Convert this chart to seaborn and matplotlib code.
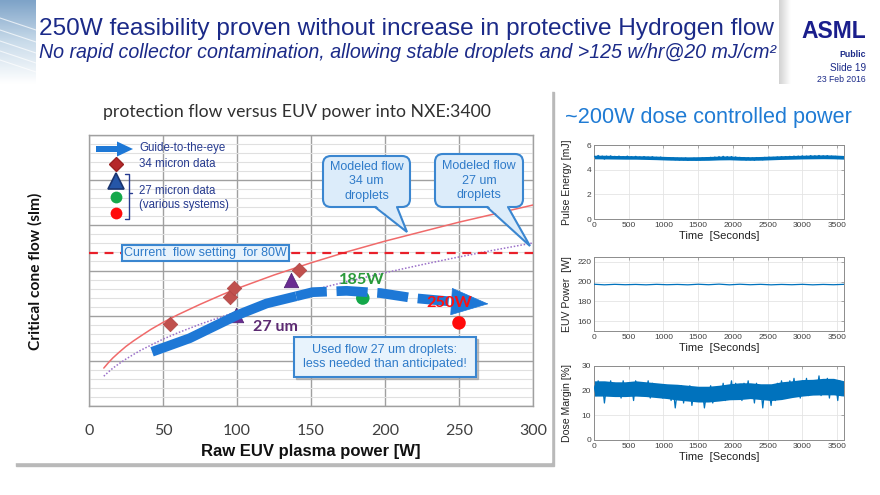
import numpy as np
import pandas as pd
import matplotlib
matplotlib.use("Agg")
import matplotlib.pyplot as plt
import seaborn as sns
from matplotlib.patches import FancyBboxPatch, Polygon, Rectangle
from matplotlib.colors import LinearSegmentedColormap

# ---------------- data ----------------
power_ticks = [0, 50, 100, 150, 200, 250, 300]
model_x = [10, 13, 16, 20, 25, 30, 35, 42, 50, 60, 75, 90, 100, 125, 150, 175, 200, 225, 250, 275, 300]
model34_y = [8.4, 9.55, 10.6, 11.8, 13.2, 14.4, 15.5, 17.0, 18.5, 20.2, 22.5, 24.65, 26.0, 29.0, 31.7,
             34.2, 36.5, 38.6, 40.7, 42.6, 44.5]
model27_y = [6.6, 7.5, 8.35, 9.3, 10.4, 11.4, 12.35, 13.5, 14.8, 16.2, 18.1, 19.8, 20.9, 23.3, 25.6,
             27.6, 29.5, 31.3, 33.0, 34.6, 36.1]
current_flow = 33.8
d34_x = [55, 95, 98, 142]
d34_y = [18.2, 24.1, 26.1, 30.1]
tri_x = [99, 136.5]
tri_y = [20.1, 27.9]
green_x = [185]
green_y = [23.9]
red_x = [250]
red_y = [18.4]
guide_solid_x = [42.6, 68, 100, 120, 140]
guide_solid_y = [12.0, 15.0, 20.1, 22.7, 24.3]
guide_dash_x = [140, 151, 174, 197, 219, 246]
guide_dash_y = [24.3, 25.2, 25.5, 25.0, 23.9, 23.1]
guide_tip_x = 270
guide_tip_y = 22.6

pulse_energy = [5.1, 4.95, 5.15, 5.0, 5.1, 4.85, 5.1, 4.98, 5.12, 4.95, 5.08, 4.97, 5.1, 4.93, 5.06, 4.96,
                5.1, 4.94, 5.05, 4.92, 5.08, 4.95, 5.03, 4.9, 5.06, 4.93, 5.02, 4.9, 5.05, 4.92, 5.0,
                4.9, 5.02, 4.88, 4.98, 4.85, 4.97, 4.82, 4.95, 4.8, 4.93, 4.78, 4.92, 4.8, 4.95, 4.76,
                4.9, 4.82, 4.93, 4.78, 4.92, 4.8, 4.95, 4.82, 4.97, 4.85, 5.0, 4.84, 5.02, 4.88, 5.05,
                4.9, 5.08, 4.92, 5.05, 4.88, 5.06, 4.9, 5.03, 4.85, 5.0, 4.82, 4.98, 4.78, 4.97, 4.8,
                4.95, 4.76, 4.98, 4.82, 4.97, 4.8, 5.0, 4.85, 5.02, 4.84, 5.0, 4.87, 5.03, 4.9, 5.05,
                4.9, 5.06, 4.93, 5.08, 4.95, 5.1, 4.92, 5.1, 4.96, 5.12, 4.95, 5.1, 4.98, 5.14, 4.97,
                5.12, 5.0, 5.15, 4.96, 5.12, 4.98, 5.14, 4.95, 5.1, 4.93, 5.08, 4.9, 5.05, 4.92, 5.02]
pulse_lo = [4.88, 4.87, 4.86, 4.85, 4.85, 4.83, 4.81, 4.78, 4.76, 4.75, 4.75, 4.76, 4.79, 4.8, 4.77, 4.76,
            4.77, 4.8, 4.83, 4.85, 4.87, 4.88, 4.89, 4.88, 4.85]
pulse_hi = [5.17, 5.17, 5.15, 5.14, 5.13, 5.12, 5.1, 5.07, 5.05, 5.04, 5.05, 5.07, 5.1, 5.11, 5.07, 5.05,
            5.07, 5.1, 5.13, 5.15, 5.17, 5.19, 5.2, 5.19, 5.15]
euv_power = [197.4, 196.8, 197.3, 196.9, 197.2, 196.8, 197.3, 196.9, 197.2, 196.8, 197.4, 196.9, 197.5,
             196.8, 197.4, 196.9, 197.3, 196.8, 197.2, 196.9, 197.3, 196.8, 197.2, 196.9, 197.3]
dose_margin = [22, 18, 24, 19, 23, 15, 22, 19, 24, 18, 23, 20, 22, 17, 24, 19, 23, 18, 22, 16, 24, 19,
               23, 18, 22, 20, 24, 17, 23, 19, 22,
               18, 22, 17, 21, 19, 22, 16, 21, 13, 20, 17, 22, 15, 21, 18, 22, 14, 20, 17, 21, 16, 20,
               13, 19, 18, 22, 15, 20, 17, 21,
               18, 23, 16, 22, 19, 24, 17, 23, 18, 22, 16, 23, 19, 24, 17, 22, 15, 23, 18, 22, 13, 21,
               17, 20, 14, 22, 16, 23, 18, 24,
               19, 23, 18, 24, 20, 25, 19, 23, 17, 24, 20, 25, 18, 24, 19, 23, 20, 26, 18, 24, 19, 25,
               17, 24, 20, 23, 16, 24, 18, 22]
dose_lo = [17.8, 17.8, 17.6, 17.6, 17.8, 17.6, 17.2, 16.8, 16.2, 15.8, 15.4, 15.4, 15.8, 16.3, 16.4, 16.8,
           16.4, 16.0, 16.4, 17.2, 17.8, 18.2, 18.3, 18.3, 17.8]
dose_hi = [24.0, 24.0, 23.6, 23.6, 24.0, 23.6, 23.2, 22.8, 22.6, 22.2, 21.8, 21.8, 22.2, 22.8, 23.2, 23.2,
           22.8, 22.8, 23.6, 24.0, 24.5, 24.6, 25.0, 25.0, 24.0]
time_ticks = [0, 500, 1000, 1500, 2000, 2500, 3000, 3500]

# ---------------- style ----------------
sns.set_theme(style="white")
plt.rcParams["font.family"] = ["Liberation Sans", "DejaVu Sans"]

W, H = 880, 495
fig = plt.figure(figsize=(8.8, 4.95), dpi=100)
fig.patch.set_facecolor("white")

def rect(x0, y0, x1, y1):
    return [x0 / W, 1 - y1 / H, (x1 - x0) / W, (y1 - y0) / H]

# background overlay (pixel coords, y down)
bg = fig.add_axes([0, 0, 1, 1], zorder=-5)
bg.set_xlim(0, W); bg.set_ylim(H, 0); bg.axis("off")
grad = np.linspace(0, 1, 100)[:, None] * np.ones((1, 20))
bg.imshow(grad, extent=(0, 36, 84, 0), cmap=LinearSegmentedColormap.from_list(
    "sw", ["#7ea3c8", "#c9dbea", "#ffffff"]), aspect="auto", zorder=1)
for yy in [30, 42, 53, 63, 72]:
    bg.plot([0, 36], [yy - 12, yy], color="white", lw=0.8, alpha=0.7, zorder=2)
hgrad = np.linspace(0, 1, 30)[None, :] * np.ones((10, 1))
bg.imshow(hgrad, extent=(779, 791, 84, 0), cmap=LinearSegmentedColormap.from_list(
    "sh", ["#d2d2d2", "#ffffff"]), aspect="auto", zorder=1)
# chart panel with shadow
bg.add_patch(Rectangle((16, 92), 538, 374, color="#b9b9b9", zorder=3))
bg.add_patch(Rectangle((13, 88), 538, 374, color="white", zorder=4))

# ---------------- main chart ----------------
NAVY = "#1b2a88"
ax = fig.add_axes(rect(89, 135, 533, 406))
ax.set_facecolor("none")
ax.set_xlim(0, 300); ax.set_ylim(0, 60)
ax.set_xticks(power_ticks)
ax.set_yticks(range(0, 61, 10))
ax.set_yticks(range(0, 61, 2), minor=True)
ax.set_yticklabels([])
ax.set_xticklabels([str(v) for v in power_ticks], fontfamily="Lato", fontsize=11.5, color="#404040")
ax.tick_params(axis="both", which="major", direction="out", length=5, color="#a0a0a0", width=1)
ax.tick_params(axis="y", which="minor", length=0)
ax.tick_params(axis="x", pad=8)
ax.grid(which="major", color="#a0a0a0", lw=1)
ax.grid(which="minor", axis="y", color="#e0e0e0", lw=0.8)
for s in ax.spines.values():
    s.set_color("#a0a0a0"); s.set_linewidth(1)
ax.set_axisbelow(True)

sns.lineplot(x=model_x, y=model34_y, ax=ax, color="#f06a6a", lw=1.1, zorder=3)
sns.lineplot(x=model_x, y=model27_y, ax=ax, color="#9a6fc8", lw=1.1, linestyle=(0, (1, 1.2)), zorder=3)
ax.axhline(current_flow, color="#e8202a", lw=1.6, linestyle=(0, (4, 3)), zorder=3)

sns.scatterplot(x=d34_x, y=d34_y, ax=ax, marker="D", s=55, color="#c0504d", edgecolor="#b04545",
                linewidth=0.5, zorder=5)
sns.scatterplot(x=tri_x, y=tri_y, ax=ax, marker="^", s=110, color="#6a2c91", edgecolor="#4b1f70",
                linewidth=0.5, zorder=4)
sns.scatterplot(x=green_x, y=green_y, ax=ax, marker="o", s=95, color="#14a84a", edgecolor="none", zorder=5)
sns.scatterplot(x=red_x, y=red_y, ax=ax, marker="o", s=95, color="#ff0a0a", edgecolor="none", zorder=5)

BLUE = "#1e78d6"
sns.lineplot(x=guide_solid_x, y=guide_solid_y, ax=ax, color=BLUE, lw=7, zorder=7,
             solid_capstyle="butt")
sns.lineplot(x=guide_dash_x, y=guide_dash_y, ax=ax, color=BLUE, lw=7, zorder=7,
             linestyle=(0, (3.2, 1.0)), dash_capstyle="butt")
ax.annotate("", xy=(guide_tip_x, guide_tip_y), xytext=(guide_dash_x[-1], guide_dash_y[-1]),
            arrowprops=dict(arrowstyle="-|>,head_length=2.6,head_width=0.95", mutation_scale=10,
                            color=BLUE, lw=0.5, shrinkA=0, shrinkB=0), zorder=8)

ax.set_xlabel("Raw EUV plasma power [W]", fontsize=12, fontweight="bold", color="#111111", labelpad=4)
ax.set_ylabel("")

# ---------------- overlay (pixel coords) ----------------
ov = fig.add_axes([0, 0, 1, 1], zorder=10)
ov.set_xlim(0, W); ov.set_ylim(H, 0); ov.axis("off"); ov.patch.set_alpha(0)

# titles
ov.text(39, 35, "250W feasibility proven without increase in protective Hydrogen flow",
        fontsize=17.6, color=NAVY, ha="left", va="baseline")
ov.text(39, 58, "No rapid collector contamination, allowing stable droplets and >125 w/hr@20 mJ/cm\u00b2",
        fontsize=14.1, style="italic", color=NAVY, ha="left", va="baseline")
ov.text(866, 38, "ASML", fontsize=16.5, fontweight="bold", color="#1a1e8c", ha="right", va="baseline")
ov.text(866, 57, "Public", fontsize=6.3, fontweight="bold", color=NAVY, ha="right", va="baseline")
ov.text(866, 71, "Slide 19", fontsize=7.2, color=NAVY, ha="right", va="baseline")
ov.text(866, 82, "23 Feb 2016", fontsize=6.2, color=NAVY, ha="right", va="baseline")

ov.text(297, 112, "protection flow versus EUV power into NXE:3400", fontfamily="Lato",
        fontsize=12.7, color="#303030", ha="center", va="center")
ov.text(35, 271, "Critical cone flow (slm)", fontfamily="Lato", fontsize=11.2, fontweight="bold",
        color="#111111", rotation=90, ha="center", va="center")

ov.text(708, 118, "~200W dose controlled power", fontsize=15.6, color="#1f7bd4", ha="center", va="center")

# legend
LEG = "#263a8f"
ov.add_patch(Rectangle((96, 146), 22, 6, color=BLUE, lw=0))
ov.add_patch(Polygon([(117, 141.5), (133, 149), (117, 156.5)], closed=True, color=BLUE, lw=0))
ov.text(139, 148, "Guide-to-the-eye", fontsize=8.3, color=LEG, va="center")
ov.plot([116], [164], marker="D", ms=7.5, color="#b5282a", mec="#9a2020")
ov.text(139, 164, "34 micron data", fontsize=8.3, color=LEG, va="center")
ov.plot([116], [181], marker="^", ms=11, color="#2556a8", mec="#1a3570", mew=1.2)
ov.plot([116], [197], marker="o", ms=8.5, color="#14a84a", mec="none")
ov.plot([116], [212.5], marker="o", ms=8.5, color="#ff0a0a", mec="none")
ov.plot([125, 129, 129, 125], [174, 174, 219, 219], color=LEG, lw=1)
ov.plot([129, 132], [193, 193], color=LEG, lw=1)
ov.text(139, 191, "27 micron data", fontsize=8.3, color=LEG, va="center")
ov.text(139, 205, "(various systems)", fontsize=8.3, color=LEG, va="center")

# value labels
ov.text(362, 280, "185W", fontfamily="Lato", fontweight="bold", fontsize=11.8, color="#2a9a3a",
        ha="center", va="center", zorder=1)
ov.text(275, 327, "27 um", fontfamily="Lato", fontweight="bold", fontsize=11.5, color="#5c2a72",
        ha="center", va="center")

FILL = "#dcecfa"
EDGE = "#3a86d0"
TXT = "#2f7bc9"

def callout(x0, y0, x1, y1, text, tail=None, rounded=True, shadow=False, fs=9, fill=FILL):
    if shadow:
        ov.add_patch(Rectangle((x0 + 2, y0 + 2), x1 - x0, y1 - y0, color="#9a9a9a", alpha=0.6, zorder=19))
    style = "round,pad=0,rounding_size=8" if rounded else "square,pad=0"
    ov.add_patch(FancyBboxPatch((x0, y0), x1 - x0, y1 - y0, boxstyle=style, fc=fill, ec=EDGE,
                                lw=1.5, zorder=20))
    if tail is not None:
        bx1, bx2, tx, ty = tail
        ov.add_patch(Polygon([(bx1, y1 - 2), (tx, ty), (bx2, y1 - 2)], closed=True, fc=fill,
                             ec="none", zorder=21))
        ov.plot([bx1, tx, bx2], [y1, ty, y1], color=EDGE, lw=1.5, zorder=22, solid_joinstyle="miter")
    ov.text((x0 + x1) / 2, (y0 + y1) / 2, text, fontsize=fs, color=TXT, ha="center", va="center",
            linespacing=1.25, zorder=23)

callout(323, 156, 410, 207, "Modeled flow\n34 um\ndroplets", tail=(375, 397, 407, 232))
callout(435, 154, 523, 207, "Modeled flow\n27 um\ndroplets", tail=(487, 508, 530, 246))
callout(122, 245, 289, 261, "Current  flow setting  for 80W", rounded=False, fill="#e8f3fc")
callout(294, 337, 476, 377, "Used flow 27 um droplets:\nless needed than anticipated!", rounded=False,
        shadow=True, fill="#e8f3fc")

# 250W label (behind arrow head)
fig.text(449 / W, 1 - 303 / H, "250W", fontfamily="Lato", fontweight="bold", fontsize=11.8,
         color="#ff1010", ha="center", va="center", zorder=1)

# ---------------- right panels ----------------
MBLUE = "#0072bd"

def small_axes(box, series, ylim, yticks, ylabel, lo=None, hi=None):
    a = fig.add_axes(rect(*box))
    t = np.linspace(0, 3600, len(series))
    df = pd.DataFrame({"t": t, "v": series})
    if lo is not None:
        tb = np.linspace(0, 3600, len(lo))
        a.fill_between(tb, lo, hi, color=MBLUE, lw=0, zorder=2)
    sns.lineplot(data=df, x="t", y="v", ax=a, color=MBLUE, lw=0.9, estimator=None, zorder=3)
    a.set_xlim(0, 3600); a.set_ylim(*ylim)
    a.set_xticks(time_ticks); a.set_yticks(yticks)
    a.tick_params(direction="in", length=2, labelsize=6, color="#9a9a9a", labelcolor="#404040",
                  pad=2, top=True, right=True, width=0.6)
    a.grid(True, color="#e4e4e4", lw=0.6)
    for s in a.spines.values():
        s.set_color("#8c8c8c"); s.set_linewidth(0.7)
    a.set_xlabel("Time  [Seconds]", fontsize=8, color="#222222", labelpad=1.5)
    a.set_ylabel(ylabel, fontsize=7.6, color="#222222", labelpad=2)
    a.yaxis.set_label_coords(-0.09, 0.5)
    return a

small_axes((594, 145, 844, 219), pulse_energy, (0, 6), [0, 2, 4, 6], "Pulse Energy [mJ]",
           pulse_lo, pulse_hi)
small_axes((594, 257, 844, 331), euv_power, (150, 225), [160, 180, 200, 220], "EUV Power  [W]")
small_axes((594, 366, 844, 440), dose_margin, (0, 30), [0, 10, 20, 30], "Dose Margin [%]",
           dose_lo, dose_hi)

fig.savefig("out.png", dpi=100, facecolor="white")
